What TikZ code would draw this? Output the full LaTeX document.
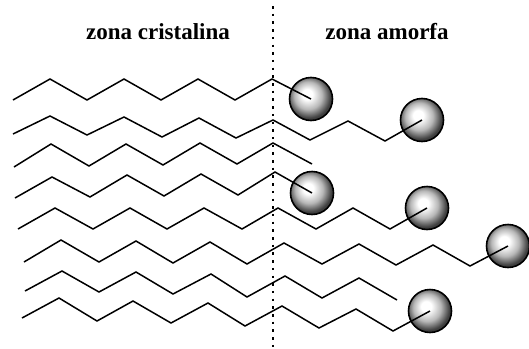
\documentclass[tikz,border=0pt]{standalone}
\usepackage{fontspec}
\setmainfont{Liberation Serif}

\pgfdeclareradialshading{bead}{\pgfpoint{-5bp}{6bp}}{color(0bp)=(white); color(6bp)=(white); color(16bp)=(white!72!black); color(25bp)=(white!25!black); color(50bp)=(black)}

\begin{document}
\begin{tikzpicture}
[x=1pt,y=-1pt
,chain/.style={line width=1.5pt,line join=miter}
,head/.style={circle,draw,line width=1.6pt,minimum size=43pt,inner sep=0pt,shading=bead}
,label/.style={font=\bfseries\fontsize{23}{23}\selectfont,inner sep=0pt}
]
\useasboundingbox (0,0) rectangle (529,348);

\node[label] (zc) at (158,32) {zona cristalina};
\node[label] (za) at (387,32) {zona amorfa};

\node[head] (b1) at (311,99)  {};
\node[head] (b2) at (422,120) {};
\node[head] (b3) at (312,193) {};
\node[head] (b4) at (427,208) {};
\node[head] (b5) at (508,246) {};
\node[head] (b6) at (430,311) {};

\draw[chain] (13,100) -- (50,79) -- (87,100) -- (124,79) -- (161,100) -- (198,79) -- (235,100) -- (272,79) -- (b1.center);
\draw[chain] (13,134) -- (50,116) -- (87,135) -- (124,117) -- (162,137) -- (199,118) -- (236,138) -- (273,120) -- (310,140) -- (348,121) -- (385,141) -- (b2.center);
\draw[chain] (14,167) -- (51,144) -- (89,166) -- (126,144) -- (163,165) -- (200,143) -- (237,164) -- (273,143) -- (312,164);
\draw[chain] (15,198) -- (52,177) -- (90,197) -- (127,175) -- (164,196) -- (201,174) -- (238,195) -- (275,172) -- (b3.center);
\draw[chain] (18,229) -- (55,208) -- (93,229) -- (130,208) -- (167,229) -- (204,208) -- (242,229) -- (278,208) -- (316,229) -- (353,208) -- (390,229) -- (b4.center);
\draw[chain] (24,262) -- (61,240) -- (99,262) -- (136,241) -- (173,263) -- (210,242) -- (247,264) -- (284,243) -- (322,264) -- (359,244) -- (396,265) -- (433,245) -- (470,266) -- (b5.center);
\draw[chain] (25,291) -- (62,271) -- (99,292) -- (136,272) -- (173,294) -- (211,274) -- (247,297) -- (285,276) -- (322,298) -- (359,278) -- (397,300);
\draw[chain] (22,318) -- (59,298) -- (97,321) -- (133,301) -- (171,323) -- (208,303) -- (245,326) -- (282,306) -- (319,328) -- (356,309) -- (393,331) -- (b6.center);

% boundary between the two zones
\coordinate (top) at (273,6);
\coordinate (bot) at (273,348);
\draw[line width=2pt,dash pattern=on 2.5pt off 5.2pt] (top) -- (bot);

\end{tikzpicture}
\end{document}
